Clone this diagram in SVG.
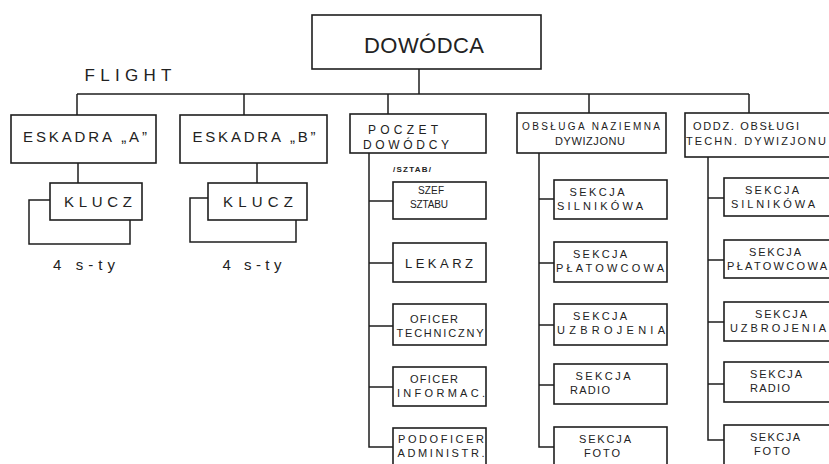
<svg xmlns="http://www.w3.org/2000/svg" width="829" height="464" viewBox="0 0 829 464">
<style>
  .bg { fill: #ffffff; }
  .box { fill: #ffffff; stroke: #1e1e1e; stroke-width: 1.6; }
  .ln { fill: none; stroke: #1e1e1e; stroke-width: 1.5; }
  text { font-family: "Liberation Sans", Arial, sans-serif; fill: #222222; text-anchor: middle; }
  .t22 { font-size: 22px; }
  .t17 { font-size: 17px; }
  .t15 { font-size: 15px; }
  .t13 { font-size: 13px; }
  .t12 { font-size: 12px; }
  .t11 { font-size: 11px; }
  .t10 { font-size: 10px; }
  .t8 { font-size: 8px; font-weight: bold; }
</style>
<rect class="bg" x="0" y="0" width="829" height="464"/>

<g id="connectors">
  <path class="ln" d="M419,69 V94"/>
  <path class="ln" d="M77,94 H749"/>
  <path class="ln" d="M77,94 V115 M244,94 V115 M388,94 V114 M589,94 V113 M749,94 V113"/>
  <path class="ln" d="M78,163 V183 M257,163 V183"/>
  <path class="ln" d="M369,153 V447 H393 M369,201 H393 M369,263 H393 M369,326 H393 M369,387 H393"/>
  <path class="ln" d="M539,153 V447 H554 M539,199 H554 M539,263 H554 M539,325 H554 M539,385 H554"/>
  <path class="ln" d="M708,157 V440 H724 M708,198 H724 M708,260 H724 M708,322 H724 M708,384 H724"/>
</g>

<g id="dowodca">
  <rect class="box" x="312" y="15" width="229" height="54"/>
  <text class="t22" x="424" y="53" textLength="120" lengthAdjust="spacing">DOWÓDCA</text>
</g>

<g id="flight">
  <text class="t17" x="128" y="81" textLength="87" lengthAdjust="spacing">FLIGHT</text>
</g>

<g id="eskadra-a">
  <rect class="box" x="11" y="115" width="145" height="48"/>
  <text class="t15" x="85" y="142" textLength="124" lengthAdjust="spacing">ESKADRA „A”</text>
</g>
<g id="klucz-a">
  <path class="ln" d="M50,200 H29 V244 H130 V220"/>
  <rect class="box" x="50" y="183" width="92" height="37"/>
  <text class="t15" x="98" y="207" textLength="68" lengthAdjust="spacing">KLUCZ</text>
  <text class="t15" x="84" y="270" textLength="62" lengthAdjust="spacing">4 s-ty</text>
</g>

<g id="eskadra-b">
  <rect class="box" x="180" y="115" width="147" height="48"/>
  <text class="t15" x="254" y="142" textLength="123" lengthAdjust="spacing">ESKADRA „B”</text>
</g>
<g id="klucz-b">
  <path class="ln" d="M208,198 H190 V242 H296 V220"/>
  <rect class="box" x="208" y="183" width="99" height="37"/>
  <text class="t15" x="258" y="207" textLength="70" lengthAdjust="spacing">KLUCZ</text>
  <text class="t15" x="252" y="270" textLength="59" lengthAdjust="spacing">4 s-ty</text>
</g>

<g id="poczet">
  <rect class="box" x="350" y="114" width="136" height="39"/>
  <text class="t12" x="403" y="134" textLength="70" lengthAdjust="spacing">POCZET</text>
  <text class="t12" x="406" y="149" textLength="86" lengthAdjust="spacing">DOWÓDCY</text>
  <text class="t8" x="412" y="172" textLength="38" lengthAdjust="spacing">/SZTAB/</text>
</g>
<g id="szef-sztabu">
  <rect class="box" x="393" y="182" width="93" height="37"/>
  <text class="t10" x="431" y="194" textLength="26" lengthAdjust="spacing">SZEF</text>
  <text class="t10" x="429" y="208" textLength="38" lengthAdjust="spacing">SZTABU</text>
</g>
<g id="lekarz">
  <rect class="box" x="393" y="243" width="93" height="39"/>
  <text class="t13" x="439" y="268" textLength="68" lengthAdjust="spacing">LEKARZ</text>
</g>
<g id="oficer-techniczny">
  <rect class="box" x="393" y="304" width="93" height="41"/>
  <text class="t11" x="434" y="323" textLength="48" lengthAdjust="spacing">OFICER</text>
  <text class="t11" x="440" y="337" textLength="87" lengthAdjust="spacing">TECHNICZNY</text>
</g>
<g id="oficer-informac">
  <rect class="box" x="393" y="367" width="93" height="39"/>
  <text class="t11" x="434" y="383" textLength="48" lengthAdjust="spacing">OFICER</text>
  <text class="t11" x="441" y="397" textLength="88" lengthAdjust="spacing">INFORMAC.</text>
</g>
<g id="podoficer-administr">
  <rect class="box" x="393" y="428" width="93" height="50"/>
  <text class="t11" x="441" y="443" textLength="86" lengthAdjust="spacing">PODOFICER</text>
  <text class="t11" x="441" y="457" textLength="87" lengthAdjust="spacing">ADMINISTR.</text>
</g>

<g id="obsluga">
  <rect class="box" x="517" y="113" width="149" height="40"/>
  <text class="t10" x="591" y="130" textLength="138" lengthAdjust="spacing">OBSŁUGA NAZIEMNA</text>
  <text class="t11" x="590" y="145" textLength="70" lengthAdjust="spacing">DYWIZJONU</text>
</g>
<g id="o-silnikowa">
  <rect class="box" x="554" y="180" width="113" height="39"/>
  <text class="t11" x="597" y="196" textLength="55" lengthAdjust="spacing">SEKCJA</text>
  <text class="t11" x="600" y="210" textLength="86" lengthAdjust="spacing">SILNIKÓWA</text>
</g>
<g id="o-platowcowa">
  <rect class="box" x="554" y="242" width="113" height="40"/>
  <text class="t11" x="600" y="258" textLength="54" lengthAdjust="spacing">SEKCJA</text>
  <text class="t11" x="610" y="272" textLength="108" lengthAdjust="spacing">PŁATOWCOWA</text>
</g>
<g id="o-uzbrojenia">
  <rect class="box" x="554" y="304" width="113" height="41"/>
  <text class="t11" x="600" y="320" textLength="54" lengthAdjust="spacing">SEKCJA</text>
  <text class="t11" x="611" y="334" textLength="108" lengthAdjust="spacing">UZBROJENIA</text>
</g>
<g id="o-radio">
  <rect class="box" x="554" y="364" width="113" height="40"/>
  <text class="t11" x="603" y="380" textLength="55" lengthAdjust="spacing">SEKCJA</text>
  <text class="t11" x="590" y="394" textLength="40" lengthAdjust="spacing">RADIO</text>
</g>
<g id="o-foto">
  <rect class="box" x="554" y="427" width="113" height="50"/>
  <text class="t11" x="605" y="443" textLength="52" lengthAdjust="spacing">SEKCJA</text>
  <text class="t11" x="602" y="457" textLength="36" lengthAdjust="spacing">FOTO</text>
</g>

<g id="oddz">
  <rect class="box" x="685" y="113" width="160" height="44"/>
  <text class="t11" x="746" y="130" textLength="106" lengthAdjust="spacing">ODDZ. OBSŁUGI</text>
  <text class="t11" x="756" y="145" textLength="140" lengthAdjust="spacing">TECHN. DYWIZJONU</text>
</g>
<g id="t-silnikowa">
  <rect class="box" x="724" y="178" width="120" height="38"/>
  <text class="t11" x="772" y="194" textLength="54" lengthAdjust="spacing">SEKCJA</text>
  <text class="t11" x="773" y="208" textLength="84" lengthAdjust="spacing">SILNIKÓWA</text>
</g>
<g id="t-platowcowa">
  <rect class="box" x="724" y="240" width="120" height="38"/>
  <text class="t11" x="775" y="256" textLength="52" lengthAdjust="spacing">SEKCJA</text>
  <text class="t11" x="777" y="270" textLength="100" lengthAdjust="spacing">PŁATOWCOWA</text>
</g>
<g id="t-uzbrojenia">
  <rect class="box" x="724" y="302" width="120" height="39"/>
  <text class="t11" x="781" y="318" textLength="52" lengthAdjust="spacing">SEKCJA</text>
  <text class="t11" x="778" y="332" textLength="96" lengthAdjust="spacing">UZBROJENIA</text>
</g>
<g id="t-radio">
  <rect class="box" x="724" y="362" width="120" height="40"/>
  <text class="t11" x="776" y="378" textLength="52" lengthAdjust="spacing">SEKCJA</text>
  <text class="t11" x="770" y="392" textLength="40" lengthAdjust="spacing">RADIO</text>
</g>
<g id="t-foto">
  <rect class="box" x="724" y="425" width="120" height="50"/>
  <text class="t11" x="775" y="441" textLength="50" lengthAdjust="spacing">SEKCJA</text>
  <text class="t11" x="772" y="455" textLength="36" lengthAdjust="spacing">FOTO</text>
</g>
</svg>
